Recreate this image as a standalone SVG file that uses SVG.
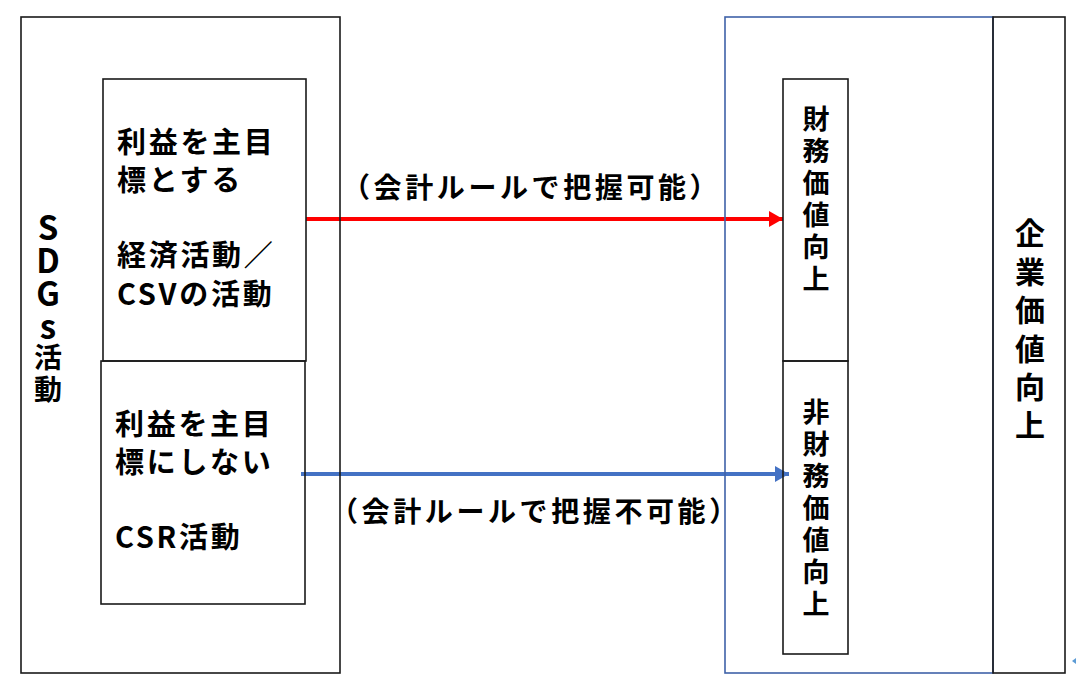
<svg xmlns="http://www.w3.org/2000/svg" width="1078" height="688" viewBox="0 0 1078 688">
<style>
.box{fill:none;stroke:#1a1a1a;stroke-width:1.6}
.bluebox{fill:none;stroke:#3f62a8;stroke-width:1.6}
.t{font-family:"Noto Sans CJK JP","Noto Sans",sans-serif;font-weight:bold;fill:#000}
.h{font-size:29px;letter-spacing:2.7px}
.lab{font-size:28px;letter-spacing:3.6px}
.vt{writing-mode:vertical-rl;text-orientation:upright;text-anchor:start}
.v{font-size:27px;letter-spacing:5px}
.v2{font-size:30px;letter-spacing:8.4px}
.red{stroke:#ff0000;stroke-width:4;fill:none}
.blue{stroke:#4472c4;stroke-width:4;fill:none}
</style>
<defs>
<marker id="ahRed" markerUnits="userSpaceOnUse" markerWidth="14" markerHeight="16" refX="14" refY="8" orient="auto">
<path d="M0,0 L14,8 L0,16 z" fill="#ff0000"/>
</marker>
<marker id="ahBlue" markerUnits="userSpaceOnUse" markerWidth="14" markerHeight="16" refX="14" refY="8" orient="auto">
<path d="M0,0 L14,8 L0,16 z" fill="#4472c4"/>
</marker>
</defs>
<rect width="1078" height="688" fill="#fff"/>
<g id="connectors">
<line class="red" x1="306" y1="219" x2="783" y2="219" marker-end="url(#ahRed)"/>
<line class="blue" x1="301" y1="474" x2="789" y2="474" marker-end="url(#ahBlue)"/>
<text class="t lab" x="342" y="198">（会計ルールで把握可能）</text>
<text class="t lab" x="330" y="522">（会計ルールで把握不可能）</text>
</g>
<g id="sdgs">
<rect class="box" x="21" y="17" width="319" height="656"/>
<text class="t vt" x="48" y="211" font-size="28" letter-spacing="4"><tspan font-size="33" letter-spacing="0">SDGs</tspan>活動</text>
</g>
<g id="csv">
<rect class="box" x="103" y="79" width="203" height="282"/>
<text class="t h" x="117" y="153">利益を主目</text>
<text class="t h" x="117" y="191">標とする</text>
<text class="t h" x="117" y="266">経済活動／</text>
<text class="t h" x="117" y="305">CSVの活動</text>
</g>
<g id="csr">
<rect class="box" x="101" y="361" width="204" height="243"/>
<text class="t h" x="115" y="435">利益を主目</text>
<text class="t h" x="115" y="473">標にしない</text>
<text class="t h" x="115" y="548">CSR活動</text>
</g>
<g id="value-area">
<rect class="bluebox" x="725" y="17" width="268" height="656"/>
</g>
<g id="financial">
<rect class="box" x="783" y="79" width="65" height="282"/>
<text class="t vt v" x="816" y="105">財務価値向上</text>
</g>
<g id="nonfinancial">
<rect class="box" x="783" y="361" width="65" height="293"/>
<text class="t vt v" x="816" y="398">非財務価値向上</text>
</g>
<g id="corporate">
<rect class="box" x="993" y="17" width="72" height="656"/>
<text class="t vt v2" x="1030" y="218">企業価値向上</text>
</g>
<polygon points="1072,661 1076,658 1076,664" fill="#5b9bd5"/>
</svg>
